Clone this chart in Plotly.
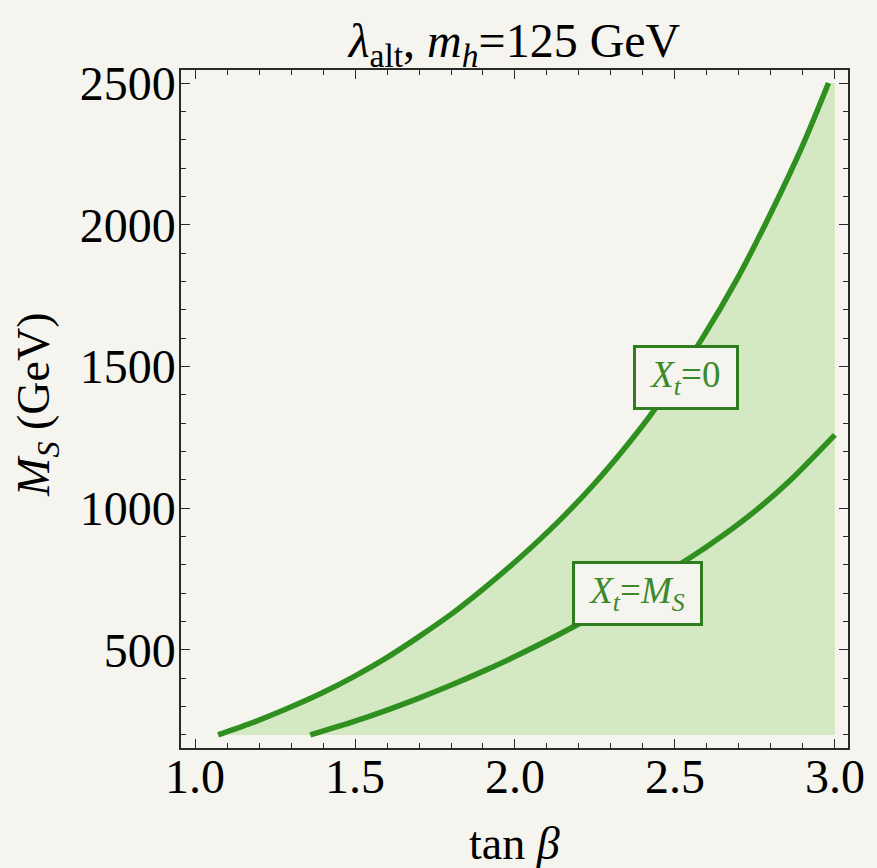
import plotly.graph_objects as go

# Data (M_S in GeV versus tan(beta))
tanb_xt0 = [1.072, 1.188, 1.29, 1.393, 1.495, 1.598, 1.70, 1.803, 1.905, 2.008,
            2.141, 2.244, 2.346, 2.434, 2.582, 2.695, 2.798, 2.90, 2.98]
ms_xt0 = [200, 247, 294, 346, 405, 472, 547, 628, 719, 818,
          959, 1081, 1216, 1344, 1593, 1810, 2037, 2282, 2500]

tanb_xtms = [1.36, 1.495, 1.598, 1.70, 1.803, 1.905, 2.008, 2.203,
             2.55, 2.654, 2.757, 2.859, 3.0]
ms_xtms = [200, 247, 287, 330, 377, 427, 481, 594,
           827, 907, 996, 1097, 1259]

TANB_MAX = 3.0
MS_MIN = 200
MS_MAX = 2500

labels = [
    dict(text="&nbsp;<i>X</i><sub><i>t</i></sub>=0&nbsp;", tanb=2.535, ms=1461),
    dict(text="&nbsp;<i>X</i><sub><i>t</i></sub>=<i>M</i><sub><i>S</i></sub>&nbsp;", tanb=2.383, ms=700),
]

BG = "#f5f4ef"
LINE = "#2f901f"
FILL = "#d4e8c4"
FRAME = "#2a2a2a"
FONT = "Liberation Serif"

fig = go.Figure()

# shaded allowed region
fig.add_trace(go.Scatter(
    x=tanb_xt0 + [TANB_MAX, TANB_MAX],
    y=ms_xt0 + [MS_MAX, MS_MIN],
    fill="toself", fillcolor=FILL, mode="none", hoverinfo="skip", showlegend=False,
))

for xs, ys in [(tanb_xt0, ms_xt0), (tanb_xtms, ms_xtms)]:
    fig.add_trace(go.Scatter(
        x=xs, y=ys, mode="lines",
        line=dict(color=LINE, width=5.5, shape="spline", smoothing=0.8),
        showlegend=False,
    ))

for lab in labels:
    fig.add_annotation(
        x=lab["tanb"], y=lab["ms"], xref="x", yref="y", text=lab["text"], showarrow=False,
        font=dict(family=FONT, size=37, color="#3a8a2a"),
        bgcolor=BG, bordercolor="#2e7d1e", borderwidth=3, borderpad=6,
    )

# axis titles
fig.add_annotation(x=0.5, y=0, xref="paper", yref="paper", yanchor="middle", yshift=-95,
                   text="tan <i>β</i>", showarrow=False, font=dict(family=FONT, size=46, color="black"))
fig.add_annotation(x=0, y=0.506, xref="paper", yref="paper", xanchor="center", xshift=-144,
                   text="<i>M</i><sub><i>S</i></sub> (GeV)", textangle=-90, showarrow=False,
                   font=dict(family=FONT, size=46, color="black"))

fig.update_layout(
    width=877, height=868,
    margin=dict(l=181, r=18, t=70, b=120),
    paper_bgcolor=BG, plot_bgcolor=BG,
    title=dict(text="<i>λ</i><sub>alt</sub>, <i>m</i><sub><i>h</i></sub>=125 GeV",
               x=0.5, xref="paper", y=1 - 40 / 868, yref="container", yanchor="middle",
               font=dict(family=FONT, size=48, color="black")),
    font=dict(family=FONT, color="black"),
)

axis_common = dict(
    showgrid=False, zeroline=False, showline=True, linecolor=FRAME, linewidth=1.5,
    mirror="allticks", ticks="inside", ticklen=9, tickwidth=1.3, tickcolor=FRAME,
    tickfont=dict(family=FONT, size=48, color="black"),
)
fig.update_xaxes(range=[0.956, 3.041], tick0=1.0, dtick=0.5, tickformat=".1f",
                 minor=dict(ticks="inside", ticklen=5, dtick=0.1, tick0=1.0, tickcolor=FRAME, showgrid=False),
                 ticklabelstandoff=-14, **axis_common)
fig.update_yaxes(range=[154, 2546], tick0=0, dtick=500,
                 minor=dict(ticks="inside", ticklen=5, dtick=100, tick0=0, tickcolor=FRAME, showgrid=False),
                 ticklabelstandoff=-6, **axis_common)

fig.write_html("out.html")
